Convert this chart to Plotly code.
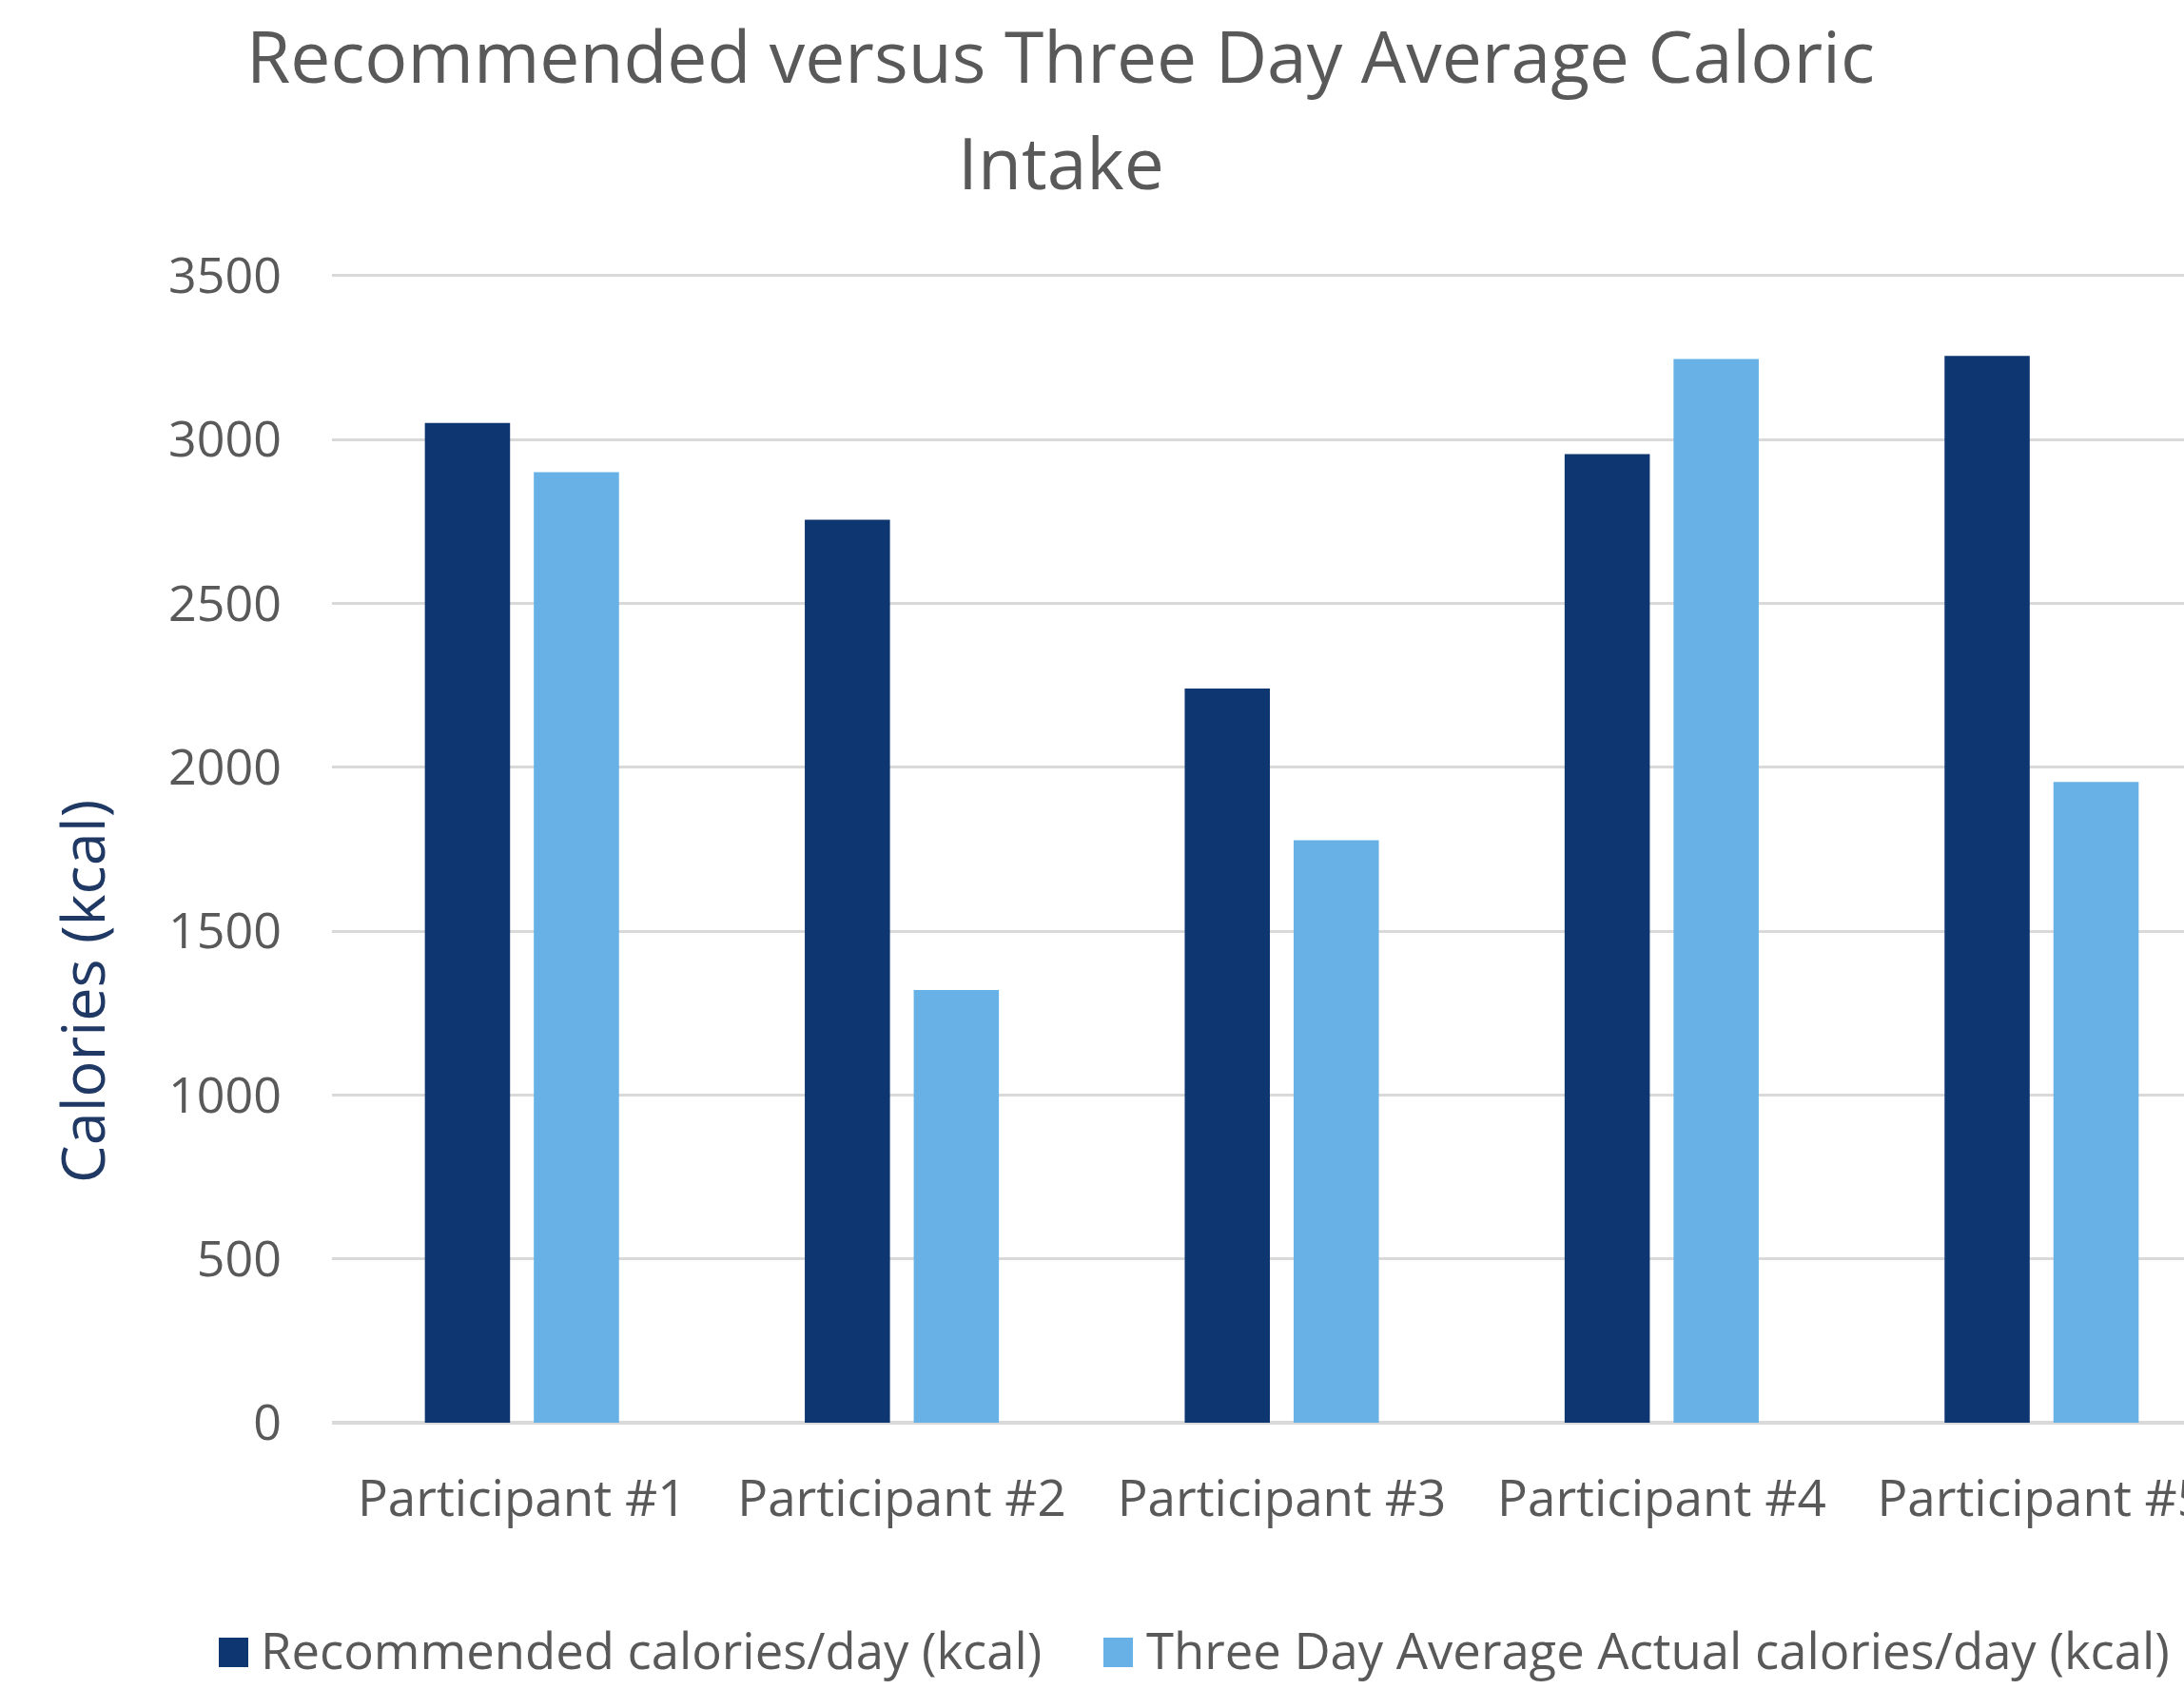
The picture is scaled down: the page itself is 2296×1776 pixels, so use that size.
import plotly.graph_objects as go

categories = ["Participant #1", "Participant #2", "Participant #3", "Participant #4", "Participant #5"]
recommended = [3050, 2755, 2240, 2955, 3255]
actual = [2900, 1320, 1777, 3245, 1955]
series_names = ["Recommended calories/day (kcal)", "Three Day Average Actual calories/day (kcal)"]
title_lines = ["Recommended versus Three Day Average Caloric", "Intake"]
y_title = "Calories (kcal)"
y_ticks = [0, 500, 1000, 1500, 2000, 2500, 3000, 3500]

DARK = "#0e3670"
LIGHT = "#67b1e6"
GRAY = "#595959"
GRID = "#d9d9d9"
NAVY = "#1f3864"
FONT = "Open Sans"

W, H = 2296, 1776
ML, MR, MT, MB = 349, 0, 288, 280
PW, PH = W - ML - MR, H - MT - MB

def px(x):
    return (x - ML) / PW

def py(y):
    return (H - MB - y) / PH

fig = go.Figure()
fig.add_trace(go.Bar(x=categories, y=recommended, name=series_names[0],
                     marker=dict(color=DARK, line=dict(width=0)), showlegend=False))
fig.add_trace(go.Bar(x=categories, y=actual, name=series_names[1],
                     marker=dict(color=LIGHT, line=dict(width=0)), showlegend=False))

cat_w = 399.4
x_max = -0.5 + PW / cat_w

annotations = [
    dict(text=title_lines[0], x=px(1115), y=py(58), xref="paper", yref="paper",
         xanchor="center", yanchor="middle", showarrow=False,
         font=dict(family=FONT, size=75, color=GRAY)),
    dict(text=title_lines[1], x=px(1115), y=py(170), xref="paper", yref="paper",
         xanchor="center", yanchor="middle", showarrow=False,
         font=dict(family=FONT, size=75, color=GRAY)),
    dict(text=y_title, x=px(85), y=py(1043), xref="paper", yref="paper",
         xanchor="center", yanchor="middle", showarrow=False, textangle=-90,
         font=dict(family=FONT, size=63, color=NAVY)),
    dict(text=series_names[0], x=px(272), y=py(1734), xref="paper", yref="paper",
         xanchor="left", yanchor="middle", showarrow=False,
         font=dict(family=FONT, size=52.6, color=GRAY)),
    dict(text=series_names[1], x=px(1203), y=py(1734), xref="paper", yref="paper",
         xanchor="left", yanchor="middle", showarrow=False,
         font=dict(family=FONT, size=52.6, color=GRAY)),
]

shapes = [
    dict(type="rect", xref="paper", yref="paper", x0=px(230), x1=px(261),
         y0=py(1753), y1=py(1722), fillcolor=DARK, line=dict(width=0)),
    dict(type="rect", xref="paper", yref="paper", x0=px(1160), x1=px(1191),
         y0=py(1753), y1=py(1722), fillcolor=LIGHT, line=dict(width=0)),
]

fig.update_layout(
    width=W, height=H,
    margin=dict(l=ML, r=MR, t=MT, b=MB, autoexpand=False),
    paper_bgcolor="white", plot_bgcolor="white",
    barmode="group", bargap=0.4265, bargroupgap=0.218,
    showlegend=False,
    annotations=annotations, shapes=shapes,
    font=dict(family=FONT, color=GRAY),
)
fig.update_xaxes(range=[-0.5, x_max], showgrid=False, ticks="", showline=False,
                 automargin=False,
                 tickfont=dict(family=FONT, size=53, color=GRAY),
                 ticklabelstandoff=44, zeroline=False)
fig.update_yaxes(range=[0, 3505], tickvals=y_ticks, showgrid=True, gridcolor=GRID,
                 gridwidth=3, zeroline=True, zerolinecolor=GRID, zerolinewidth=4,
                 ticks="", showline=False, automargin=False,
                 tickfont=dict(family=FONT, size=52, color=GRAY),
                 ticklabelstandoff=52)

fig.write_html("out.html")
